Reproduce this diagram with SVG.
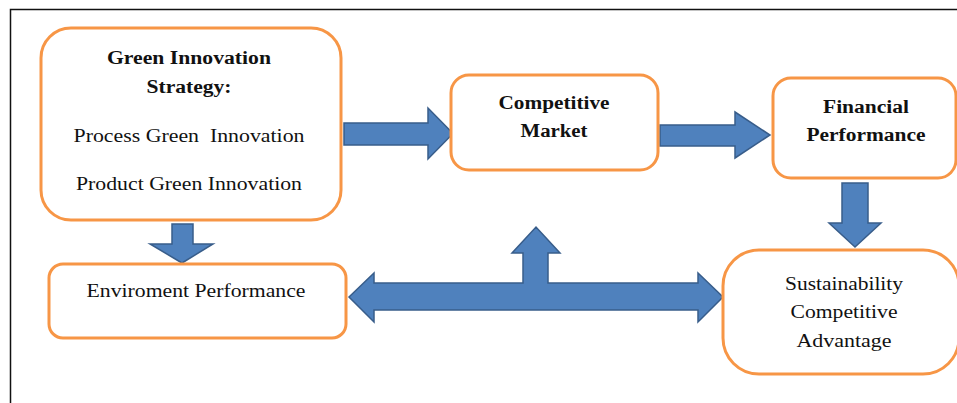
<svg xmlns="http://www.w3.org/2000/svg" width="957" height="403" viewBox="0 0 957 403">
  <style>
    .box { fill: #ffffff; stroke: #F79646; stroke-width: 3; }
    .arrow { fill: #4F81BD; stroke: #385D8A; stroke-width: 1.5; stroke-linejoin: miter; }
    .t { font-family: "Liberation Serif", "Times New Roman", serif; font-size: 18px; fill: #111111; text-anchor: middle; }
    .b { font-weight: bold; }
  </style>
  <rect x="0" y="0" width="957" height="403" fill="#ffffff"/>
  <!-- frame -->
  <path d="M10.5 403 V9.5 H957" fill="none" stroke="#111111" stroke-width="1.5"/>

  <g id="connectors">
    <!-- strategy -> market -->
    <polygon class="arrow" points="344,123 428,123 428,108 453,133.5 428,159 428,145 344,145"/>
    <!-- market -> financial -->
    <polygon class="arrow" points="660,125 735,125 735,112 770,135 735,158 735,146 660,146"/>
    <!-- financial -> sustainability -->
    <polygon class="arrow" points="842,183 868,183 868,223 881,223 855,247 829,223 842,223"/>
    <!-- strategy -> environment -->
    <polygon class="arrow" points="172,224 193,224 193,244 213,244 182,263 150,244 172,244"/>
    <!-- environment <-> sustainability, with branch up to market -->
    <polygon class="arrow" points="349,297 374,273 374,283 523,283 523,253 512,253 536,227 560,253 548,253 548,283 698,283 698,273 723,297 698,322 698,310 374,310 374,322"/>
  </g>

  <g id="green-innovation-strategy">
    <rect class="box" x="41" y="28" width="300" height="192" rx="30"/>
    <text class="t b" x="189" y="64" textLength="164" lengthAdjust="spacingAndGlyphs">Green Innovation</text>
    <text class="t b" x="189" y="93" textLength="85" lengthAdjust="spacingAndGlyphs">Strategy:</text>
    <text class="t" x="189" y="142" xml:space="preserve" textLength="231" lengthAdjust="spacingAndGlyphs">Process Green  Innovation</text>
    <text class="t" x="189" y="190" textLength="226" lengthAdjust="spacingAndGlyphs">Product Green Innovation</text>
  </g>

  <g id="competitive-market">
    <rect class="box" x="451" y="75" width="207" height="95" rx="18"/>
    <text class="t b" x="554" y="109" textLength="111" lengthAdjust="spacingAndGlyphs">Competitive</text>
    <text class="t b" x="554" y="137" textLength="67" lengthAdjust="spacingAndGlyphs">Market</text>
  </g>

  <g id="financial-performance">
    <rect class="box" x="773" y="78" width="183" height="100" rx="18"/>
    <text class="t b" x="866" y="113" textLength="86" lengthAdjust="spacingAndGlyphs">Financial</text>
    <text class="t b" x="866" y="141" textLength="119" lengthAdjust="spacingAndGlyphs">Performance</text>
  </g>

  <g id="enviroment-performance">
    <rect class="box" x="49" y="264" width="297" height="74" rx="14"/>
    <text class="t" x="196" y="297" textLength="219" lengthAdjust="spacingAndGlyphs">Enviroment Performance</text>
  </g>

  <g id="sustainability-competitive-advantage">
    <rect class="box" x="723" y="250" width="236" height="124" rx="36"/>
    <text class="t" x="844" y="290" textLength="118" lengthAdjust="spacingAndGlyphs">Sustainability</text>
    <text class="t" x="844" y="318" textLength="107" lengthAdjust="spacingAndGlyphs">Competitive</text>
    <text class="t" x="844" y="347" textLength="95" lengthAdjust="spacingAndGlyphs">Advantage</text>
  </g>
</svg>
